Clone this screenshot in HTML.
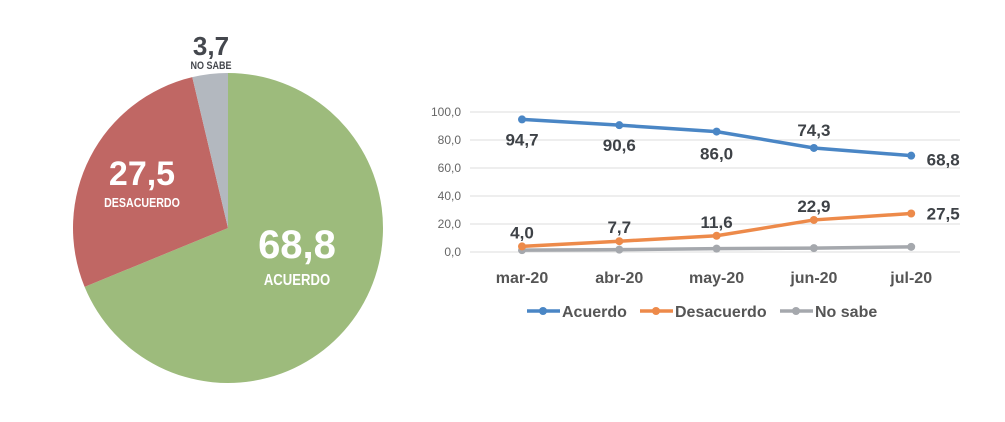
<!DOCTYPE html>
<html><head><meta charset="utf-8"><style>
body{margin:0;background:#fff;font-family:"Liberation Sans",sans-serif}
svg text{font-family:"Liberation Sans",sans-serif}
</style></head><body>
<svg id="c" width="1005" height="417" viewBox="0 0 1005 417">
<g id="pie"></g>
<g id="line"></g>
</svg>
<script>
const pieLabels=["ACUERDO","DESACUERDO","NO SABE"];
const pieValues=[68.8,27.5,3.7];
const pieColors=["#9dbb7c","#c06764","#b3b8bf"];
const categories=["mar-20","abr-20","may-20","jun-20","jul-20"];
const acuerdo=[94.7,90.6,86.0,74.3,68.8];
const desacuerdo=[4.0,7.7,11.6,22.9,27.5];
const noSabe=[1.3,1.7,2.4,2.8,3.7];
const yTicks=[0,20,40,60,80,100];
const NS="http://www.w3.org/2000/svg";
function mk(t,a,p){const e=document.createElementNS(NS,t);for(const k in a)e.setAttribute(k,a[k]);p.appendChild(e);return e;}
const fmt=v=>v.toFixed(1).replace('.',',');
// pie
const pg=document.getElementById('pie');const cx=228,cy=228,r=155;
const tot=pieValues.reduce((a,b)=>a+b,0);let a0=0;
pieValues.forEach((v,i)=>{const a1=a0+v/tot*2*Math.PI;
const p=(a)=>[cx+r*Math.sin(a),cy-r*Math.cos(a)];const [x0,y0]=p(a0),[x1,y1]=p(a1);
const e=mk('path',{d:`M${cx},${cy}L${x0},${y0}A${r},${r} 0 ${a1-a0>Math.PI?1:0} 1 ${x1},${y1}Z`,fill:pieColors[i]},pg);

a0=a1;});
const pl=[[297,258,"#fff",40,297,285,16],[142,185,"#fff",34,142,207,13],[211,55,"#44474d",26,211,69,11]];
pl.forEach((q,i)=>{const t=mk('text',{x:q[0],y:q[1],fill:q[2],'font-size':q[3],'font-weight':'bold','text-anchor':'middle'},pg);t.textContent=fmt(pieValues[i]);


const l=mk('text',{x:q[4],y:q[5],fill:q[2],'font-size':q[6],'font-weight':'bold','text-anchor':'middle','transform':`translate(${q[4]*0.18},0) scale(0.82,1)`},pg);
l.setAttribute('x',q[4]);l.textContent=pieLabels[i];

});
// line chart
const lg=document.getElementById('line');
const X=i=>522+i*97.3, Y=v=>252-v*1.4;
yTicks.forEach(v=>{const g=mk('line',{x1:470,x2:960,y1:Y(v),y2:Y(v),stroke:'#dcdcdc','stroke-width':1},lg);


const t=mk('text',{x:461,y:Y(v)+4,'font-size':12,fill:'#666','text-anchor':'end'},lg);t.textContent=fmt(v);

});
categories.forEach((c,i)=>{const t=mk('text',{x:X(i),y:283,'font-size':16,'font-weight':'bold',fill:'#555','text-anchor':'middle'},lg);t.textContent=c;

});
const series=[[noSabe,'#a5a8ad',null],[desacuerdo,'#ed8a4a',[[0,-14],[0,-14],[0,-14],[0,-14],[32,0]]],[acuerdo,'#4a86c5',[[0,-28+48],[0,20],[0,22],[0,-18],[32,4]]]];
series.forEach((s,si)=>{const d=s[0].map((v,i)=>(i?'L':'M')+X(i)+','+Y(v)).join('');
const p=mk('path',{d,fill:'none',stroke:s[1],'stroke-width':3.5},lg);


s[0].forEach((v,i)=>{const m=mk('circle',{cx:X(i),cy:Y(v),r:4,fill:s[1]},lg);


if(s[2]){const o=s[2][i];const t=mk('text',{x:X(i)+o[0],y:Y(v)+o[1]+6,'font-size':17,'font-weight':'bold',fill:'#3e4247','text-anchor':'middle'},lg);t.textContent=fmt(v);

}});});
const leg=[["Acuerdo",'#4a86c5',527],["Desacuerdo",'#ed8a4a',640],["No sabe",'#a5a8ad',780]];
leg.forEach(q=>{const l=mk('line',{x1:q[2],x2:q[2]+33,y1:311,y2:311,stroke:q[1],'stroke-width':3.5},lg);


const c=mk('circle',{cx:q[2]+16,cy:311,r:4,fill:q[1]},lg);


const t=mk('text',{x:q[2]+35,y:317,'font-size':16,'font-weight':'bold',fill:'#555'},lg);t.textContent=q[0];

});
</script>
</body></html>
